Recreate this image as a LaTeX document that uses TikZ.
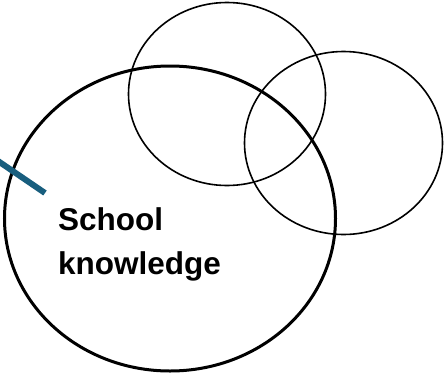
\documentclass[tikz,border=0pt]{standalone}
\usepackage{fontspec}
\setmainfont{Liberation Sans}
\definecolor{linkblue}{RGB}{24,94,126}
\begin{document}
\begin{tikzpicture}[x=1pt,y=-1pt,
  thincircle/.style={draw=black,line width=1.6pt},
  bigcircle/.style={draw=black,line width=3pt},
  label/.style={font=\fontsize{31.5}{44}\selectfont\bfseries,inner sep=0pt,align=left,anchor=base west}]
\useasboundingbox (0,0) rectangle (444,375);
\draw[thincircle] (227,94) ellipse [x radius=98.5, y radius=91.5];
\draw[thincircle] (343.5,143) ellipse [x radius=99, y radius=91.5];
\draw[bigcircle] (170,218.5) ellipse [x radius=165.5, y radius=152.5];
\node[label] (txt) at (58,274) {School\\knowledge};
\coordinate (a) at (-2,161);
\coordinate (b) at (45,193);
\draw[linkblue,line width=6pt] (a) -- (b);
\end{tikzpicture}
\end{document}
